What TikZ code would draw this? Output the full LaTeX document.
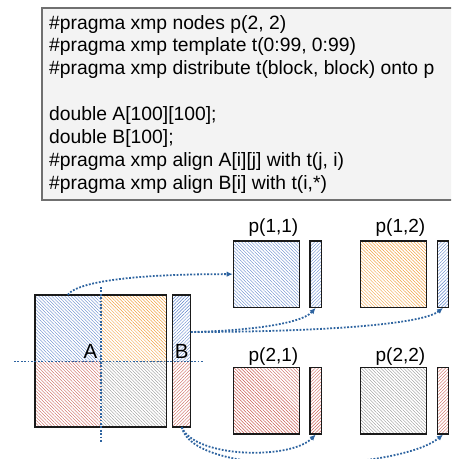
\documentclass[tikz,border=0pt]{standalone}
\usepackage{fontspec}
\setmainfont{Liberation Sans}
\usetikzlibrary{patterns.meta,arrows.meta}
\definecolor{codebg}{HTML}{F3F3F3}
\definecolor{codeborder}{HTML}{707070}
\definecolor{hblue}{HTML}{5A80C8}
\definecolor{horange}{HTML}{F0A040}
\definecolor{hred}{HTML}{C85A50}
\definecolor{hgray}{HTML}{909090}
\definecolor{dotblue}{HTML}{2E64A0}
\definecolor{edge}{HTML}{1A1A1A}
\tikzset{
  codeline/.style={anchor=base west, inner sep=0pt, font=\fontsize{19.3}{22.8}\selectfont},
  hatchbig/.style={inner sep=0pt, pattern={Lines[angle=-45,distance=2.3pt,line width=0.4pt]}, pattern color=#1},
  hatchbar/.style={inner sep=0pt, pattern={Lines[angle=45,distance=2.3pt,line width=0.4pt]}, pattern color=#1},
  outline/.style={draw=edge, line width=1.2pt, inner sep=0pt},
  dotline/.style={draw=dotblue, line width=1.8pt, dash pattern=on 1.8pt off 1.6pt},
  dotarrow/.style={dotline, -{Latex[length=6pt,width=5.5pt]}},
  plabel/.style={anchor=base, inner sep=0pt, font=\fontsize{19}{22}\selectfont},
  ablabel/.style={inner sep=0pt, font=\fontsize{20.5}{24}\selectfont},
}
\begin{document}
\begin{tikzpicture}[x=1pt,y=-1pt]
\useasboundingbox (0,0) rectangle (451,459);
\clip (0,0) rectangle (451,459);
% code box
\node (codebox) [draw=codeborder, line width=1.5pt, fill=codebg, minimum width=428pt, minimum height=192pt, inner sep=0pt] at (256,104) {};
\node (l1) [codeline] at (49,29) {\#pragma xmp nodes p(2, 2)};
\node (l2) [codeline] at (49,51.9) {\#pragma xmp template t(0:99, 0:99)};
\node (l3) [codeline] at (49,74.8) {\#pragma xmp distribute t(block, block) onto p};
\node (l5) [codeline] at (49,120.6) {double A[100][100];};
\node (l6) [codeline] at (49,143.5) {double B[100];};
\node (l7) [codeline] at (49,166.4) {\#pragma xmp align A[i][j] with t(j, i)};
\node (l8) [codeline] at (49,189.3) {\#pragma xmp align B[i] with t(i,*)};
% matrix A quadrants
\node (a11) [hatchbig=hblue, minimum width=65.75pt, minimum height=66pt] at (67.875,328) {};
\node (a12) [hatchbig=horange, minimum width=65.75pt, minimum height=66pt] at (133.625,328) {};
\node (a21) [hatchbig=hred, minimum width=65.75pt, minimum height=66pt] at (67.875,394) {};
\node (a22) [hatchbig=hgray, minimum width=65.75pt, minimum height=66pt] at (133.625,394) {};
\node (Abox) [outline, minimum width=131.5pt, minimum height=132pt] at (100.75,361) {};
% vector B
\node (Btop) [hatchbar=hblue, minimum width=18pt, minimum height=66pt] at (181.7,328) {};
\node (Bbot) [hatchbar=hred, minimum width=18pt, minimum height=66pt] at (181.7,394) {};
\node (Bbox) [outline, minimum width=18pt, minimum height=132pt] at (181.7,361) {};
% divider lines
\coordinate (vt) at (100.75,287);
\coordinate (vb) at (100.75,443);
\coordinate (hl) at (14,361.5);
\coordinate (hr) at (204,361.5);
\draw[dotline] (vt) -- (vb);
\draw[dotline] (hl) -- (hr);
% labels A, B
\node (Alab) [ablabel, anchor=base east] at (97.5,358.5) {A};
\node (Blab) [ablabel, anchor=base] at (181.7,358.5) {B};
% processes
\node (p11) [hatchbig=hblue, outline, minimum width=66pt, minimum height=66.3pt] at (266.3,274.15) {};
\node (p11b) [hatchbar=hblue, outline, minimum width=11.3pt, minimum height=66.3pt] at (315.65,274.15) {};
\node (p12) [hatchbig=horange, outline, minimum width=66pt, minimum height=66.3pt] at (393.7,274.15) {};
\node (p12b) [hatchbar=hblue, outline, minimum width=11.3pt, minimum height=66.3pt] at (443,274.15) {};
\node (p21) [hatchbig=hred, outline, minimum width=66pt, minimum height=66.3pt] at (266.3,400.85) {};
\node (p21b) [hatchbar=hred, outline, minimum width=11.3pt, minimum height=66.3pt] at (315.65,400.85) {};
\node (p22) [hatchbig=hgray, outline, minimum width=66pt, minimum height=66.3pt] at (393.7,400.85) {};
\node (p22b) [hatchbar=hred, outline, minimum width=11.3pt, minimum height=66.3pt] at (443,400.85) {};
\node (t11) [plabel] at (273.5,232.7) {p(1,1)};
\node (t12) [plabel] at (400.5,232.7) {p(1,2)};
\node (t21) [plabel] at (273.5,361) {p(2,1)};
\node (t22) [plabel] at (400.5,361) {p(2,2)};
% connectors
\draw[dotarrow] (a11.north) .. controls (75,284) and (120,274) .. (p11.west);
\draw[dotarrow] ([yshift=-4pt]Btop.east) .. controls (240,331) and (300,325) .. (p11b.south);
\draw[dotarrow] ([yshift=-4pt]Btop.east) .. controls (300,332) and (420,326) .. (p12b.south);
\draw[dotarrow] (Bbot.south) .. controls (195,458) and (290,460) .. (p21b.south);
\draw[dotarrow] (Bbot.south) .. controls (195,480) and (400,470) .. (p22b.south);
\end{tikzpicture}
\end{document}
